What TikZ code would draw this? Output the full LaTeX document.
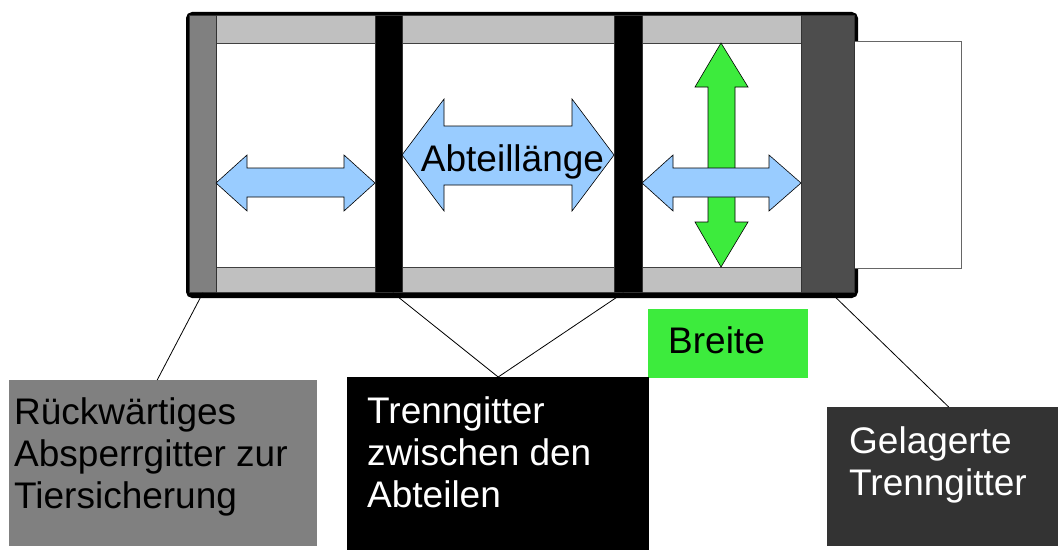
\documentclass[tikz,border=0pt]{standalone}
\usepackage{fontspec}
\setmainfont{Liberation Sans}
\definecolor{stripgray}{HTML}{C0C0C0}
\definecolor{bargray}{HTML}{808080}
\definecolor{bardark}{HTML}{4D4D4D}
\definecolor{boxdark}{HTML}{333333}
\definecolor{lightblue}{HTML}{99CCFF}
\definecolor{brightgreen}{HTML}{3DEB3D}

\begin{document}
\begin{tikzpicture}[x=1pt,y=-1pt,
  bar/.style={draw=black!80,line width=0.8pt,anchor=north west,inner sep=0pt,minimum height=277pt},
  strip/.style={fill=stripgray,draw=black!75,line width=0.8pt},
  infobox/.style={anchor=north west,inner sep=0pt},
  infotext/.style={anchor=north west,inner sep=0pt,align=left,font=\fontsize{37}{42}\selectfont},
  bluearrow/.style={fill=lightblue,draw=black,line width=0.6pt},
  greenarrow/.style={fill=brightgreen,draw=black,line width=0.6pt},
  leader/.style={draw=black,line width=0.8pt}]
\useasboundingbox (0,0) rectangle (1060,551);
\draw [black,line width=5pt,rounded corners=4pt,fill=white] (188.5,14.5) rectangle (855.5,295.5);
\node [infobox,fill=white,draw=black!60,line width=0.8pt,minimum width=107pt,minimum height=227pt] (lade) at (854,41) {};
\draw [strip] (189,15) rectangle (854,43);
\draw [strip] (189,267) rectangle (854,292);
\node [bar,fill=bargray,minimum width=27pt] (rueckgitter) at (189,15) {};
\node [bar,fill=black,minimum width=27pt] (trennA) at (375,15) {};
\node [bar,fill=black,minimum width=28pt] (trennB) at (614,15) {};
\node [bar,fill=bardark,minimum width=53pt] (lagergitter) at (801,15) {};
\draw [bluearrow] (216,183) -- (247,155) -- (247,168) -- (344,168) -- (344,155) -- (375,183)
  -- (344,211) -- (344,197) -- (247,197) -- (247,211) -- cycle;
\draw [bluearrow] (402,155) -- (444,99) -- (444,126) -- (572,126) -- (572,99) -- (614,155)
  -- (572,211) -- (572,185) -- (444,185) -- (444,211) -- cycle;
\node [anchor=base,inner sep=0pt,font=\fontsize{37}{42}\selectfont] (laenge) at (512.5,171) {Abteillänge};
\draw [greenarrow] (721,43) -- (748,87) -- (735,87) -- (735,222) -- (748,222) -- (721,267)
  -- (695,222) -- (708,222) -- (708,87) -- (695,87) -- cycle;
\draw [bluearrow] (642,183) -- (673,155) -- (673,168) -- (769,168) -- (769,155) -- (801,183)
  -- (769,211) -- (769,197) -- (673,197) -- (673,211) -- cycle;
\node [infobox,fill=brightgreen,minimum width=160pt,minimum height=69pt] (breite) at (648,309) {};
\node [infotext] (breitetext) at ([xshift=20pt,yshift=-14.6pt]breite.north west) {\strut Breite};
\node [infobox,fill=bargray,minimum width=308pt,minimum height=166pt] (rueck) at (9,380) {};
\node [infotext] (ruecktext) at ([xshift=5pt,yshift=-14.6pt]rueck.north west) {\strut Rückwärtiges\\Absperrgitter zur\\Tiersicherung};
\node [infobox,fill=black,minimum width=302pt,minimum height=173pt] (trenn) at (347,377) {};
\node [infotext,text=white] (trenntext) at ([xshift=20pt,yshift=-16.6pt]trenn.north west) {\strut Trenngitter\\zwischen den\\Abteilen};
\node [infobox,fill=boxdark,minimum width=231pt,minimum height=139pt] (gelagert) at (827,407) {};
\node [infotext,text=white] (gelagerttext) at ([xshift=22pt,yshift=-16.6pt]gelagert.north west) {\strut Gelagerte\\Trenngitter};
\draw [leader] (rueckgitter.south) -- ([xshift=-6pt]rueck.north);
\draw [leader] ([xshift=4pt]trennA.south) -- (trenn.north);
\draw [leader] ([xshift=-5pt]trennB.south) -- (trenn.north);
\draw [leader] ([xshift=3pt]lagergitter.south) -- ([xshift=6pt]gelagert.north);
\end{tikzpicture}
\end{document}
